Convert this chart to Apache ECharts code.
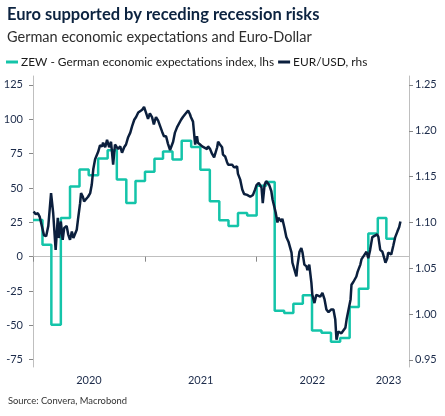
<!DOCTYPE html>
<html><head><meta charset="utf-8">
<script src="https://cdn.jsdelivr.net/npm/echarts@6/dist/echarts.min.js"></script>
<style>html,body{margin:0;padding:0;background:#fff}#c{width:445px;height:416px}</style>
</head><body><div id="c"></div>
<script>
const titleText = 'Euro supported by receding recession risks';
const subtitleText = 'German economic expectations and Euro-Dollar';
const sourceText = 'Source: Convera, Macrobond';
const seriesNames = ['ZEW - German economic expectations index, lhs', 'EUR/USD, rhs'];

// ZEW monthly values, Jan 2020 .. Mar 2023
const zewStart = [2020, 1];
const zewValues = [
  26.7, 8.7, -49.5, 28.2, 51.0, 63.4, 59.3, 71.5, 77.4, 56.1, 39.0, 55.0,
  61.8, 71.2, 76.6, 70.7, 84.4, 79.8, 63.3, 40.4, 26.5, 22.3, 31.7, 29.9,
  51.7, 54.3, -39.3, -41.0, -34.3, -28.0, -53.8, -55.3, -61.9, -59.2, -36.7, -23.3,
  16.9, 28.1, 13.0
];

const eurDates = [
  '2020-01-03','2020-01-10','2020-01-17','2020-01-23','2020-01-28','2020-02-06','2020-02-13','2020-02-20','2020-02-29',
  '2020-03-07','2020-03-15','2020-03-22','2020-03-26','2020-04-01','2020-04-07','2020-04-12','2020-04-20','2020-04-25',
  '2020-05-01','2020-05-07','2020-05-12','2020-05-17','2020-05-23','2020-05-27','2020-06-03','2020-06-06','2020-06-12',
  '2020-06-16','2020-06-22','2020-06-29','2020-07-06','2020-07-11','2020-07-16','2020-07-22','2020-08-01','2020-08-07',
  '2020-08-14','2020-08-17','2020-08-24','2020-08-30','2020-09-06','2020-09-12','2020-09-19','2020-09-25','2020-10-05',
  '2020-10-12','2020-10-18','2020-10-25','2020-10-31','2020-11-07','2020-11-14','2020-11-20','2020-11-27','2020-12-03',
  '2020-12-10','2020-12-16','2020-12-23','2020-12-29',
  '2021-01-04','2021-01-11','2021-01-17','2021-01-24','2021-01-30','2021-02-06','2021-02-13','2021-02-19','2021-02-26',
  '2021-03-04','2021-03-11','2021-03-17','2021-03-24','2021-04-03','2021-04-09','2021-04-16','2021-04-22','2021-04-29',
  '2021-05-05','2021-05-12','2021-05-22','2021-05-28','2021-05-31','2021-06-07','2021-06-14','2021-06-20','2021-06-23',
  '2021-06-30','2021-07-07','2021-07-13','2021-07-23','2021-07-26','2021-08-02','2021-08-08','2021-08-15','2021-08-25',
  '2021-08-28','2021-09-03','2021-09-10','2021-09-13','2021-09-20','2021-09-26','2021-09-30','2021-10-06','2021-10-13',
  '2021-10-19','2021-10-29','2021-11-01','2021-11-08','2021-11-15','2021-11-21','2021-12-01','2021-12-11','2021-12-20',
  '2021-12-27',
  '2022-01-01','2022-01-08','2022-01-17','2022-01-21','2022-01-27','2022-02-01','2022-02-04','2022-02-11','2022-02-18',
  '2022-02-22','2022-03-04','2022-03-10','2022-03-13','2022-03-23','2022-03-26','2022-04-02','2022-04-08','2022-04-15',
  '2022-04-25','2022-04-28','2022-05-04','2022-05-11','2022-05-14','2022-05-21','2022-05-27','2022-05-31','2022-06-06',
  '2022-06-13','2022-06-16','2022-06-22','2022-06-29','2022-07-02','2022-07-09','2022-07-15','2022-07-19','2022-07-28',
  '2022-08-04','2022-08-11','2022-08-17','2022-08-24','2022-09-02','2022-09-09','2022-09-15','2022-09-19','2022-09-25',
  '2022-10-05','2022-10-08','2022-10-18','2022-10-22','2022-10-28','2022-11-04','2022-11-07','2022-11-13','2022-11-23',
  '2022-11-27','2022-12-06','2022-12-10','2022-12-16','2022-12-26',
  '2023-01-01','2023-01-07','2023-01-14','2023-01-17','2023-01-30','2023-02-03','2023-02-09','2023-02-16','2023-02-22',
  '2023-02-26','2023-03-04','2023-03-07','2023-03-17','2023-03-24','2023-03-30','2023-04-06','2023-04-12','2023-04-16'
];
const eurValues = [
  1.112,1.109,1.110,1.106,1.108,1.086,1.085,1.096,1.132,
  1.110,1.070,1.105,1.083,1.101,1.081,1.094,1.096,1.087,
  1.081,1.090,1.083,1.085,1.092,1.103,1.121,1.132,1.128,
  1.123,1.125,1.128,1.132,1.141,1.158,1.169,1.177,1.184,
  1.183,1.187,1.182,1.190,1.182,1.188,1.163,1.185,1.180,
  1.183,1.176,1.182,1.185,1.193,1.198,1.205,1.212,1.215,
  1.220,1.221,1.223,1.226,
  1.220,1.213,1.219,1.215,1.207,1.215,1.211,1.212,1.199,
  1.194,1.194,1.186,1.179,1.188,1.198,1.204,1.205,1.212,
  1.215,1.218,1.222,1.218,1.215,1.210,1.185,1.194,1.187,
  1.185,1.183,1.182,1.180,1.183,1.180,1.175,1.171,1.182,
  1.188,1.185,1.182,1.174,1.172,1.166,1.163,1.161,1.163,
  1.160,1.161,1.153,1.147,1.136,1.131,1.130,1.128,1.130,
  1.136,
  1.141,1.143,1.138,1.121,1.141,1.145,1.147,1.141,1.134,
  1.125,1.111,1.100,1.105,1.101,1.104,1.094,1.084,1.079,
  1.067,1.056,1.056,1.041,1.052,1.068,1.072,1.067,1.054,
  1.052,1.048,1.054,1.034,1.021,1.012,1.021,1.023,1.019,
  1.023,1.016,1.005,1.002,1.005,1.005,0.994,0.972,0.981,
  0.979,0.977,0.985,0.994,0.996,1.016,1.032,1.035,1.041,
  1.046,1.054,1.060,1.063,1.068,
  1.061,1.070,1.084,1.085,1.087,1.084,1.070,1.068,1.061,
  1.056,1.061,1.067,1.065,1.075,1.084,1.090,1.095,1.101
];

const leftTicks = [-75, -50, -25, 0, 25, 50, 75, 100, 125];
const rightTicks = [0.95, 1.00, 1.05, 1.10, 1.15, 1.20, 1.25];
const yearTickDates = ['2020-01-01', '2021-01-01', '2022-01-01', '2023-01-01'];
const yearLabelDates = ['2020-07-02', '2021-07-02', '2022-07-02', '2023-03-08'];
const xRange = ['2020-01-01', '2023-05-14'];

const ts = s => { const p = s.split('-').map(Number); return new Date(p[0], p[1] - 1, p[2]).getTime(); };

// ZEW step series: each monthly value held across its month
const zewData = zewValues.map((v, i) => [new Date(zewStart[0], zewStart[1] - 1 + i, 1).getTime(), v]);
zewData.push([new Date(zewStart[0], zewStart[1] - 1 + zewValues.length, 1).getTime(), zewValues[zewValues.length - 1]]);
const eurData = eurDates.map((d, i) => [ts(d), eurValues[i]]);

const TEAL = '#14c4a9';
const NAVY = '#0b1f3d';
const AX = '#bfbfbf';
const LBL = '#1c2b4a';
const FF = 'Lato, "Open Sans", sans-serif';

const chart = echarts.init(document.getElementById('c'), null, { renderer: 'canvas' });
chart.setOption({
  animation: false,
  backgroundColor: '#fff',
  title: [
    { text: titleText, left: 7, top: 6, padding: 0,
      textStyle: { fontFamily: FF, fontWeight: 'bold', fontSize: 16.5, color: '#0c2340' } },
    { text: subtitleText, left: 7, top: 30, padding: 0,
      textStyle: { fontFamily: FF, fontWeight: 'normal', fontSize: 14.5, color: '#2e2e2e' } },
    { text: sourceText, left: 8, top: 396, padding: 0,
      textStyle: { fontFamily: FF, fontWeight: 'normal', fontSize: 9.4, color: '#333' } }
  ],
  legend: {
    left: 6, top: 56, padding: 0, itemGap: 4, itemWidth: 12, itemHeight: 3, icon: 'rect',
    textStyle: { fontFamily: FF, fontSize: 11.9, color: '#1a1a1a', padding: [0, 0, 0, -2] },
    data: seriesNames
  },
  grid: { left: 33, right: 36, top: 76, bottom: 49, containLabel: false },
  xAxis: {
    type: 'value', min: ts(xRange[0]), max: ts(xRange[1]),
    axisLine: { show: true, lineStyle: { color: AX, width: 1 } },
    axisTick: { show: true, length: 5, lineStyle: { color: '#888' }, customValues: yearTickDates.map(ts) },
    axisLabel: { customValues: yearLabelDates.map(ts), margin: 8, fontFamily: FF, fontSize: 11, color: LBL,
      formatter: v => String(new Date(v).getFullYear()) },
    splitLine: { show: false }
  },
  yAxis: [
    { type: 'value', position: 'left', min: -80.3, max: 131.5,
      axisLine: { show: true, lineStyle: { color: AX } },
      axisTick: { show: true, length: 4, lineStyle: { color: '#888' }, customValues: leftTicks },
      axisLabel: { customValues: leftTicks, margin: 10, fontFamily: FF, fontSize: 11, color: LBL },
      splitLine: { show: false } },
    { type: 'value', position: 'right', min: 0.94225, max: 1.25975,
      axisLine: { show: true, lineStyle: { color: AX } },
      axisTick: { show: true, length: 4, lineStyle: { color: '#888' }, customValues: rightTicks },
      axisLabel: { customValues: rightTicks, margin: 6, fontFamily: FF, fontSize: 11, color: LBL,
        formatter: v => v.toFixed(2) },
      splitLine: { show: false } }
  ],
  series: [
    { name: seriesNames[0], type: 'line', yAxisIndex: 0, step: 'end', data: zewData,
      showSymbol: false, symbol: 'none', color: TEAL, lineStyle: { color: TEAL, width: 2.5 }, z: 2 },
    { name: seriesNames[1], type: 'line', yAxisIndex: 1, data: eurData,
      showSymbol: false, symbol: 'none', color: NAVY, lineStyle: { color: NAVY, width: 2.5 }, z: 3 }
  ]
});
</script></body></html>
